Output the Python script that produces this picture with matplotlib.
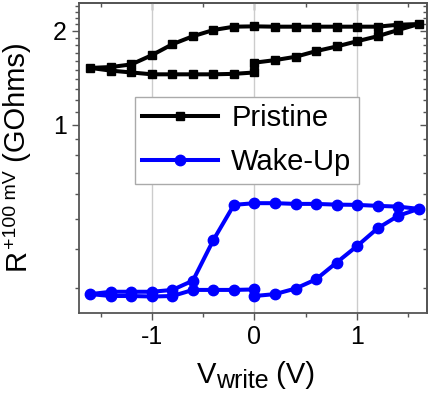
import numpy as np
import matplotlib
matplotlib.use("Agg")
import matplotlib.pyplot as plt
from matplotlib.ticker import FixedLocator, NullFormatter
from matplotlib.transforms import IdentityTransform

plt.rcParams['font.family'] = ['Liberation Sans', 'DejaVu Sans']

# sweep: 0 -> +1.6 -> -1.6 -> 0
v_up1 = [0.0, 0.2, 0.4, 0.6, 0.8, 1.0, 1.2, 1.4, 1.6]
v_down = [1.4, 1.2, 1.0, 0.8, 0.6, 0.4, 0.2, 0.0, -0.2, -0.4, -0.6, -0.8, -1.0, -1.2, -1.4, -1.6]
v_up2 = [-1.4, -1.2, -1.0, -0.8, -0.6, -0.4, -0.2, 0.0]
v_write = v_up1 + v_down + v_up2

# resistance in GOhms
r_pristine = ([1.58, 1.61, 1.65, 1.72, 1.78, 1.85, 1.92, 2.01, 2.10]
              + [2.09, 2.06, 2.06, 2.06, 2.06, 2.06, 2.06, 2.065, 2.06, 2.01, 1.92, 1.81, 1.67, 1.56, 1.53, 1.52]
              + [1.49, 1.47, 1.45, 1.45, 1.45, 1.45, 1.455, 1.47])
r_wakeup = ([0.283, 0.287, 0.299, 0.320, 0.362, 0.409, 0.466, 0.511, 0.538]
            + [0.547, 0.550, 0.554, 0.555, 0.558, 0.558, 0.561, 0.561, 0.554, 0.428, 0.317, 0.296, 0.292, 0.292, 0.292, 0.287]
            + [0.283, 0.283, 0.282, 0.283, 0.296, 0.296, 0.296, 0.297])

W, H = 432, 394
fig = plt.figure(figsize=(W / 100, H / 100), dpi=100)
ax = fig.add_axes([0.183, 0.206, 0.805, 0.786])

ax.plot(v_write, r_pristine, color='black', lw=2.9, marker='s', ms=6, label='Pristine')
ax.plot(v_write, r_wakeup, color='#0000ff', lw=2.9, marker='o', ms=7.5, label='Wake-Up')

ax.set_yscale('log')
ax.set_xlim(-1.71, 1.68)
ax.set_ylim(0.25, 2.45)

xmaj = [-1, 0, 1]
xmin = [-1.5, -0.5, 0.5, 1.5]
ymaj = [1, 2]
ymin = [m for m in np.round(np.arange(0.3, 2.5, 0.1), 1) if m not in (1.0, 2.0)]

ax.set_xticks(xmaj)
ax.set_xticklabels(['-1', '0', '1'])
ax.xaxis.set_minor_locator(FixedLocator(xmin))
ax.yaxis.set_major_locator(FixedLocator(ymaj))
ax.set_yticklabels(['1', '2'])
ax.yaxis.set_minor_locator(FixedLocator(ymin))
ax.yaxis.set_minor_formatter(NullFormatter())

ax.tick_params(which='both', direction='out', labelsize=18, color='#555555')
ax.tick_params(which='major', length=5, width=1, pad=4)
ax.tick_params(which='minor', length=3, width=1)
for s in ax.spines.values():
    s.set_color('#555555')
    s.set_linewidth(1.3)

# inward ticks on top and right
top = ax.secondary_xaxis('top')
top.set_xticks(xmaj)
top.xaxis.set_minor_locator(FixedLocator(xmin))
right = ax.secondary_yaxis('right')
right.yaxis.set_major_locator(FixedLocator(ymaj))
right.yaxis.set_minor_locator(FixedLocator(ymin))
for sec in (top, right):
    sec.tick_params(which='both', direction='in', labelleft=False, labelright=False,
                    labeltop=False, labelbottom=False, color='#555555', width=1)
    sec.tick_params(which='major', length=5)
    sec.tick_params(which='minor', length=3)
    for s in sec.spines.values():
        s.set_color('#555555')
        s.set_linewidth(1.3)

ax.grid(axis='x', color='#cccccc', lw=1)
ax.set_axisbelow(True)

leg = ax.legend(loc='upper left', bbox_to_anchor=(0.161, 0.697), borderaxespad=0, fontsize=21,
                frameon=True, fancybox=False, edgecolor='#aaaaaa', framealpha=1,
                handlelength=2.6, borderpad=0.25, labelspacing=0.55, handletextpad=0.45)
leg.get_frame().set_linewidth(1)

# axis labels built from pieces so the sub/superscripts keep their size
renderer = fig.canvas.get_renderer()


def measure(s, size):
    t = fig.text(0, 0, s, fontsize=size)
    w = t.get_window_extent(renderer).width
    t.remove()
    return w


ident = IdentityTransform()
xparts = [('V', 21, 0), ('write', 18, -5), (' (V)', 21, 0)]
total = sum(measure(s, fs) for s, fs, _ in xparts)
x0 = 256 - total / 2
base = H - 383
for s, fs, dy in xparts:
    fig.text(x0, base + dy, s, fontsize=fs, transform=ident, ha='left', va='baseline')
    x0 += measure(s, fs)

yparts = [('R', 21, 0), ('+100 mV', 14, 9), (' (GOhms)', 21, 0)]
total = sum(measure(s, fs) for s, fs, _ in yparts)
y0 = (H - 156) - total / 2
bx = 25
for s, fs, dx in yparts:
    fig.text(bx - dx, y0, s, fontsize=fs, transform=ident, rotation=90,
             rotation_mode='anchor', ha='left', va='baseline')
    y0 += measure(s, fs)

fig.savefig('out.png', dpi=100)
